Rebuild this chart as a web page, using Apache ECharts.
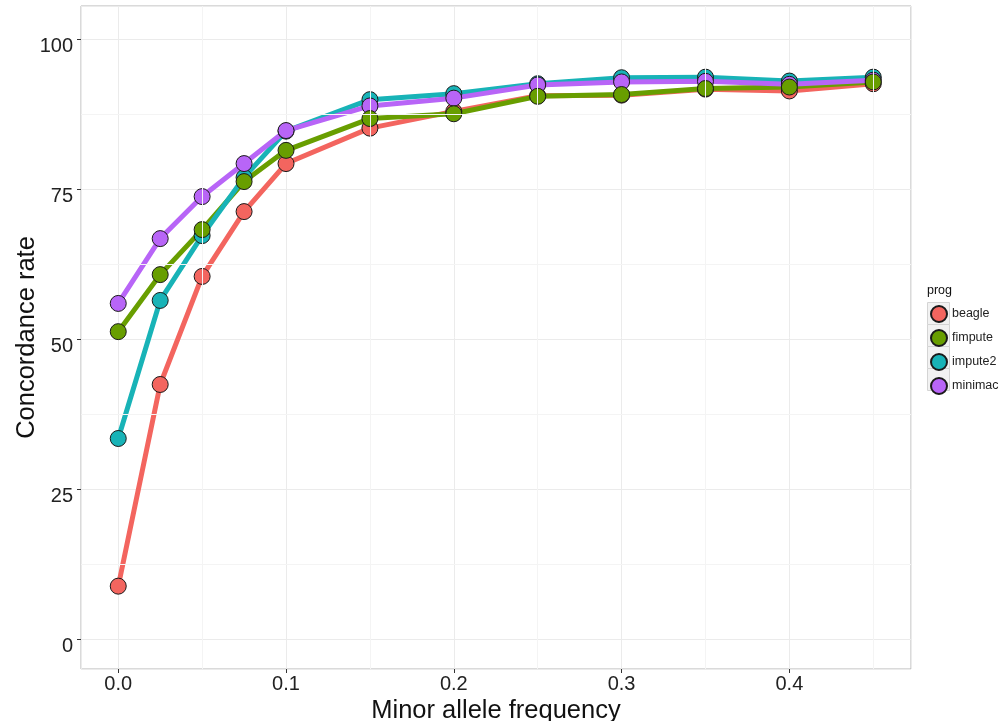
<!DOCTYPE html>
<html>
<head>
<meta charset="utf-8">
<script src="https://cdn.jsdelivr.net/npm/echarts@6/dist/echarts.min.js"></script>
<style>html,body{margin:0;padding:0;background:#fff}#c{width:1002px;height:721px}</style>
</head>
<body>
<div id="c"></div>
<script>
const maf = [0, 0.025, 0.05, 0.075, 0.1, 0.15, 0.2, 0.25, 0.3, 0.35, 0.4, 0.45];
const beagle  = [8.9, 42.5, 60.5, 71.3, 79.3, 85.2, 88.0, 90.6, 90.7, 91.7, 91.4, 92.6];
const fimpute = [51.3, 60.8, 68.3, 76.3, 81.5, 86.8, 87.6, 90.5, 90.8, 91.8, 92.05, 92.9];
const impute2 = [33.5, 56.5, 67.3, 77.0, 84.7, 89.95, 90.95, 92.6, 93.6, 93.7, 93.05, 93.7];
const minimac = [56.0, 66.8, 73.8, 79.3, 84.8, 88.9, 90.2, 92.4, 92.9, 93.0, 92.5, 93.2];
const progs = ['beagle', 'fimpute', 'impute2', 'minimac'];
const minorX = [0.05, 0.15, 0.25, 0.35, 0.45];
const minorY = [12.5, 37.5, 62.5, 87.5];

const values = {beagle, fimpute, impute2, minimac};
const colors = {beagle: '#F3655F', fimpute: '#689E00', impute2: '#18B3B7', minimac: '#B865F7'};
const FONT = 'Liberation Sans';
const pairs = name => maf.map((x, i) => [x, values[name][i]]);

const series = [];
series.push({
  type: 'line', name: '_grid', data: [], silent: true, z: 1,
  markLine: {
    silent: true, symbol: 'none', label: {show: false},
    lineStyle: {color: '#f4f4f4', width: 1, type: 'solid'},
    data: minorX.map(v => ({xAxis: v})).concat(minorY.map(v => ({yAxis: v})))
  }
});
progs.forEach(p => series.push({
  type: 'line', name: p + '_line', data: pairs(p), showSymbol: false, z: 2,
  lineStyle: {color: colors[p], width: 5}, itemStyle: {color: colors[p]},
  silent: true, animation: false
}));
['beagle', 'impute2', 'minimac', 'fimpute'].forEach(p => series.push({
  type: 'scatter', name: p, data: pairs(p), symbolSize: 16, z: 3,
  itemStyle: {color: colors[p], borderColor: '#1a1a1a', borderWidth: 1, opacity: 1},
  animation: false
}));

const chart = echarts.init(document.getElementById('c'));
chart.setOption({
  animation: false,
  textStyle: {fontFamily: FONT},
  grid: {left: 81, top: 6, right: 91, bottom: 52, show: true, borderColor: '#b5b5b5', borderWidth: 1,
    backgroundColor: '#fff', containLabel: false, outerBoundsMode: 'none'},
  xAxis: {
    type: 'value', min: -0.0222, max: 0.4725, minInterval: 0.1, maxInterval: 0.1,
    name: 'Minor allele frequency', nameLocation: 'middle', nameGap: 29, nameMoveOverlap: false,
    nameTextStyle: {fontSize: 25.5, color: '#111', fontFamily: FONT},
    axisLine: {show: false, onZero: false},
    axisTick: {show: true, length: 4, lineStyle: {color: '#333'}},
    axisLabel: {fontSize: 20, color: '#222', margin: 5, showMinLabel: false, showMaxLabel: false,
      formatter: v => v.toFixed(1), fontFamily: FONT},
    splitLine: {show: true, lineStyle: {color: '#ebebeb', width: 1}}
  },
  yAxis: {
    type: 'value', min: -4.9, max: 105.55, minInterval: 25, maxInterval: 25,
    name: 'Concordance rate', nameLocation: 'middle', nameGap: 41, nameRotate: 90, nameMoveOverlap: false,
    nameTextStyle: {fontSize: 25.5, color: '#111', fontFamily: FONT},
    axisLine: {show: false, onZero: false},
    axisTick: {show: true, length: 4, lineStyle: {color: '#333'}},
    axisLabel: {fontSize: 20, color: '#222', margin: 8, showMinLabel: false, showMaxLabel: false,
      fontFamily: FONT, lineHeight: 14, formatter: v => '\n' + v},
    splitLine: {show: true, lineStyle: {color: '#ebebeb', width: 1}}
  },
  legend: {
    data: progs, orient: 'vertical', left: 930, top: 305,
    itemWidth: 16, itemHeight: 16, itemGap: 6, icon: 'circle',
    textStyle: {fontSize: 12.5, color: '#222', fontFamily: FONT}, padding: 0
  },
  graphic: [
    {type: 'text', left: 927, top: 284, style: {text: 'prog', fontSize: 12.5, fill: '#111', fontFamily: FONT}}
  ].concat(progs.map((p, i) => ({
    type: 'rect', z: 0, shape: {x: 927.5, y: 302.5 + 22 * i, width: 22, height: 22},
    style: {fill: '#f2f2f2', stroke: '#d4d4d4', lineWidth: 1}
  }))),
  series: series
});
</script>
</body>
</html>
